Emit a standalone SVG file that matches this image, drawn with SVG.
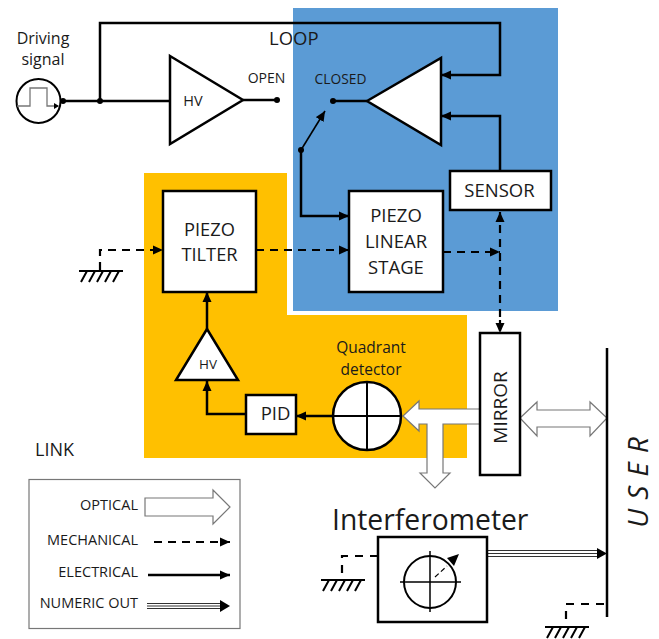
<svg xmlns="http://www.w3.org/2000/svg" width="659" height="639" viewBox="0 0 659 639">
<style>
text{font-family:"Open Sans","Noto Sans","Liberation Sans",sans-serif;fill:#1a1a1a}
.m{text-anchor:middle}.e{text-anchor:end}
.box{fill:#fff;stroke:#000;stroke-width:2.5}
.w{fill:none;stroke:#000;stroke-width:2.5}
.d{fill:none;stroke:#000;stroke-width:2.2;stroke-dasharray:8 6}
.t{fill:none;stroke:#000;stroke-width:1.5}
.n{fill:none;stroke:#333;stroke-width:1}
.o{fill:#fff;stroke:#777;stroke-width:1.2}
.a{fill:#000;stroke:none}
</style>
<defs>
<marker id="ah" markerUnits="userSpaceOnUse" markerWidth="10" markerHeight="10" refX="10" refY="5" orient="auto"><path d="M0 0.500L10 5L0 9.500Z"/></marker>
<g id="gnd"><path class="t" d="M-22 0H22" style="stroke-width:2"/><path class="t" d="M-14 0L-20 11M-6 0L-12 11M2 0L-4 11M10 0L4 11M18 0L12 11" style="stroke-width:2"/></g>
</defs>
<g id="zones">
<rect id="zone-loop" x="293" y="8" width="265" height="303" fill="#5b9bd5"/>
<path id="zone-link" d="M144 173H287V315H467V458H144Z" fill="#ffc000"/>
</g>
<g id="connectors">
<path class="w" d="M63 101H170"/>
<path class="w" d="M100 101V23H500V75H441" marker-end="url(#ah)"/>
<path class="w" d="M243 100H277"/>
<path class="w" d="M333 101H367"/>
<path class="w" d="M500 171V116H441" marker-end="url(#ah)"/>
<path d="M301 150L325 111" stroke="#000" stroke-width="1.6" fill="none" marker-end="url(#ah)"/>
<path class="w" d="M301 150V216H349" marker-end="url(#ah)"/>
<path class="d" d="M100 270V250H163" marker-end="url(#ah)"/>
<path class="d" d="M256 250H349" marker-end="url(#ah)"/>
<path class="d" d="M443 252H500" marker-end="url(#ah)"/>
<path class="d" d="M500 331V212" marker-end="url(#ah)"/>
<path class="d" d="M500 320V333" marker-end="url(#ah)"/>
<path class="w" d="M207 329V292" marker-end="url(#ah)"/>
<path class="w" d="M246 414H207V381" marker-end="url(#ah)"/>
<path class="w" d="M333 416H296" marker-end="url(#ah)"/>
<path class="d" d="M378 556H342V580" style="stroke-dasharray:8 7"/>
<path class="d" d="M604 604H566V627" style="stroke-dasharray:8 7"/>
<path class="n" d="M487.500 550.500H598M487.500 553.500H598M487.500 556.500H598"/>
<path class="a" d="M597 548L607 553.500L597 559Z"/>
<path class="o" d="M480 409H419V401L403 416L419 431V424H427V473H420L435 488L450 473H443V424H480Z"/>
<path class="o" d="M520 418L537 402V410H590V402L607 418L590 436V427H537V436Z"/>
<circle class="a" cx="63" cy="101" r="3"/><circle class="a" cx="100" cy="101" r="3"/><circle class="a" cx="277" cy="100" r="3"/><circle class="a" cx="333" cy="101" r="3"/><circle class="a" cx="301" cy="150" r="3"/>
</g>
<g id="driving-signal">
<circle cx="38.500" cy="101" r="22" fill="#fff" stroke="#000" stroke-width="2"/>
<path d="M17 106H30V88H47V106H58" fill="none" stroke="#777" stroke-width="1.3"/>
<path class="a" d="M54 103L59 106L54 109Z"/>
<text class="m" x="43" y="44" font-size="16">Driving</text>
<text class="m" x="43" y="65" font-size="16">signal</text>
</g>
<g id="hv-open"><path class="box" d="M170 56L243 100L170 144Z"/><text class="m" x="193" y="106" font-size="14.500">HV</text><text class="m" x="266.500" y="83" font-size="14">OPEN</text></g>
<g id="comparator"><path class="box" d="M367 101L441 58V145Z"/><text class="m" x="340.500" y="84" font-size="13.800">CLOSED</text></g>
<text id="loop-label" x="269" y="45" font-size="18.500">LOOP</text>
<g id="piezo-tilter"><rect class="box" x="163" y="191" width="93" height="101"/><text class="m" x="209.500" y="236" font-size="18.300">PIEZO</text><text class="m" x="209.500" y="261" font-size="18.300">TILTER</text></g>
<g id="piezo-linear"><rect class="box" x="349" y="191" width="94" height="101"/><text class="m" x="396" y="222" font-size="18.500">PIEZO</text><text class="m" x="396" y="248" font-size="18.500">LINEAR</text><text class="m" x="396" y="274" font-size="18.500">STAGE</text></g>
<g id="sensor"><rect class="box" x="450" y="171" width="101" height="39"/><text class="m" x="499.500" y="197" font-size="18.500">SENSOR</text></g>
<g id="hv-small"><path class="box" d="M207 329L176 380H238Z"/><text class="m" x="208" y="369" font-size="13.500">HV</text></g>
<g id="pid"><rect class="box" x="246" y="395" width="50" height="39"/><text class="m" x="275.500" y="420" font-size="18.500">PID</text></g>
<g id="quadrant"><circle cx="367" cy="416" r="34" fill="#fff" stroke="#000" stroke-width="2.500"/><path class="t" d="M333 416H401M367 382V450" style="stroke-width:2"/><text class="m" x="371" y="353" font-size="15.500">Quadrant</text><text class="m" x="371" y="375" font-size="15.500">detector</text></g>
<g id="mirror"><rect class="box" x="480" y="333" width="40" height="142"/><text class="m" transform="translate(507 407.500) rotate(-90)" font-size="19">MIRROR</text></g>
<g id="user"><path class="w" d="M607 348V617"/><text class="m" transform="translate(648 478) rotate(-90)" font-size="28" font-style="italic" letter-spacing="9">USER</text></g>
<g id="interferometer"><rect class="box" x="378" y="537" width="109" height="85"/>
<circle cx="430" cy="582" r="26" fill="none" stroke="#000" stroke-width="2"/>
<path class="t" d="M400 582H461M430 551V612"/>
<path d="M435 577L447 566" stroke="#000" stroke-width="1.200" stroke-dasharray="5 3" fill="none"/><path class="a" d="M447 558L459 554L454 566Z"/>
<text x="332" y="530" font-size="28.300">Interferometer</text></g>
<use id="ground-1" href="#gnd" x="101" y="271"/><use id="ground-2" href="#gnd" x="343" y="580"/><use id="ground-3" href="#gnd" x="567" y="627"/>
<text id="link-label" x="35" y="456" font-size="18">LINK</text>
<g id="legend"><rect x="29" y="479.500" width="211" height="149" fill="#fff" stroke="#777" stroke-width="1.200"/>
<text class="e" x="138" y="510" font-size="14.500">OPTICAL</text><text class="e" x="138" y="545" font-size="14.500">MECHANICAL</text><text class="e" x="138" y="577" font-size="14.500">ELECTRICAL</text><text class="e" x="138" y="608" font-size="14.500">NUMERIC OUT</text>
<path class="o" d="M145 498H213V490L230 507L213 524V516H145Z"/>
<path class="d" d="M154 542H230" marker-end="url(#ah)"/>
<path class="w" d="M148 575H230" marker-end="url(#ah)"/>
<path class="n" d="M147 603.500H222M147 606H222M147 608.500H222"/><path class="a" d="M220 600L230 606L220 612Z"/></g>
</svg>
